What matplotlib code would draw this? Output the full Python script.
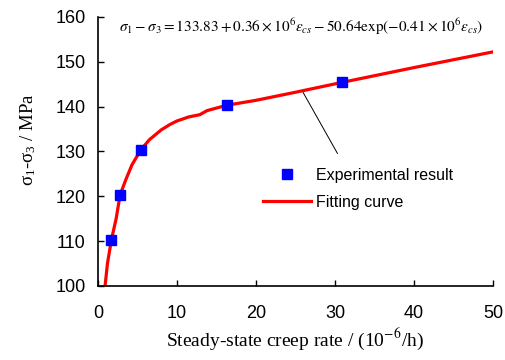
import numpy as np
import matplotlib.pyplot as plt

# experimental points (strain rate in 1e-6/h, deviatoric stress in MPa)
exp_rate = [1.7, 2.8, 5.4, 16.3, 30.9]
exp_stress = [110.3, 120.3, 130.3, 140.3, 145.5]

# fitting curve
fit_rate = [0.9, 1.2, 1.7, 2.3, 2.8, 3.5, 4.3, 5.4, 6.5, 8.0, 9.1, 10.0, 11.5,
            12.9, 13.8, 16.3, 20.0, 25.0, 30.9, 40.0, 50.0]
fit_stress = [100.0, 105.0, 110.3, 115.0, 120.3, 123.6, 127.0, 130.3, 132.6, 134.8,
              136.0, 136.8, 137.7, 138.2, 139.1, 140.3, 141.4, 143.2, 145.4, 148.7, 152.2]

xticks = [0, 10, 20, 30, 40, 50]
yticks = [100, 110, 120, 130, 140, 150, 160]

plt.rcParams['mathtext.fontset'] = 'stix'

fig = plt.figure(figsize=(5.05, 3.6), dpi=100)
ax = fig.add_axes([0.194, 0.2056, 0.782, 0.7474])

ax.plot(fit_rate, fit_stress, color='#ff0000', lw=2.3, label='Fitting curve', zorder=2)
ax.plot(exp_rate, exp_stress, ls='none', marker='s', ms=7.5, color='#0000ff',
        label='Experimental result', zorder=3)

ax.set_xlim(0, 50)
ax.set_ylim(100, 160)
ax.set_xticks(xticks)
ax.set_yticks(yticks)
ax.tick_params(direction='in', length=4, width=1, labelsize=13)
ax.tick_params(axis='x', pad=14)
ax.tick_params(axis='y', pad=9)
for lab in ax.get_xticklabels() + ax.get_yticklabels():
    lab.set_family('Liberation Sans')
ax.spines['top'].set_visible(False)
ax.spines['right'].set_visible(False)
for s in ['left', 'bottom']:
    ax.spines[s].set_linewidth(1.2)

ax.set_xlabel('Steady-state creep rate / (10$^{-6}$/h)', family='Liberation Serif',
              fontsize=14)
ax.xaxis.set_label_coords(0.5, -0.15)
ax.set_ylabel(r'$\mathregular{\sigma_1}$-$\mathregular{\sigma_3}$ / MPa',
              family='Liberation Serif', fontsize=13.5)
ax.yaxis.set_label_coords(-0.153, 0.543)

ax.text(0.514, 0.965,
        r'$\sigma_1-\sigma_3=133.83+0.36\times10^6\varepsilon_{cs}-50.64\exp(-0.41\times10^6\varepsilon_{cs})$',
        transform=ax.transAxes, ha='center', va='center', fontsize=11)

# pointer from the curve to the equation
ax.annotate('', xy=(25.8, 143.7), xytext=(30.5, 129.0),
            arrowprops=dict(arrowstyle='-', color='black', lw=0.7))

h, l = ax.get_legend_handles_labels()
ax.legend(h[::-1], l[::-1], loc='upper left', bbox_to_anchor=(263 / 505, 1 - 168 / 360),
          bbox_transform=fig.transFigure, frameon=False, handlelength=3.0,
          handletextpad=0.3, labelspacing=0.75, borderaxespad=0, borderpad=0,
          prop={'family': 'Liberation Sans', 'size': 11.5})

fig.savefig('out.png', dpi=100)
